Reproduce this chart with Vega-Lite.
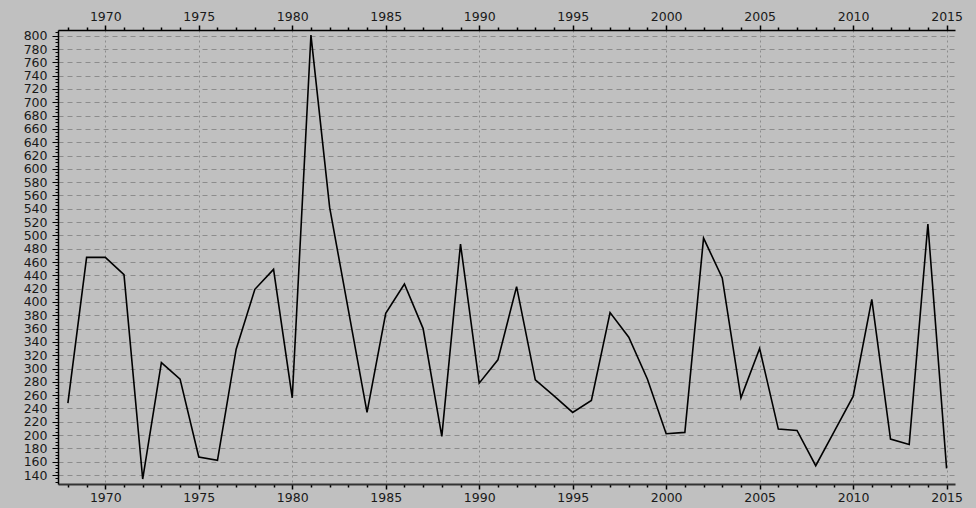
{
  "$schema": "https://vega.github.io/schema/vega-lite/v6.json",
  "width": 897,
  "height": 454,
  "autosize": {"type": "none"},
  "padding": {"left": 58, "top": 30, "right": 21, "bottom": 24},
  "background": "#c0c0c0",
  "config": {
    "view": {"stroke": null},
    "axis": {
      "labelFont": "DejaVu Sans",
      "labelFontSize": 12.5,
      "labelColor": "#1a1a1a",
      "domainColor": "#000000",
      "tickColor": "#000000",
      "gridColor": "#8c8c8c",
      "gridWidth": 1,
      "labelOverlap": false,
      "labelFlush": false,
      "title": null
    }
  },
  "data": {
    "values": [
      {"year": 1968, "value": 248},
      {"year": 1969, "value": 467},
      {"year": 1970, "value": 467},
      {"year": 1971, "value": 441},
      {"year": 1972, "value": 134},
      {"year": 1973, "value": 309},
      {"year": 1974, "value": 284},
      {"year": 1975, "value": 167},
      {"year": 1976, "value": 162},
      {"year": 1977, "value": 329},
      {"year": 1978, "value": 419},
      {"year": 1979, "value": 449},
      {"year": 1980, "value": 256},
      {"year": 1981, "value": 801},
      {"year": 1982, "value": 542},
      {"year": 1983, "value": 388},
      {"year": 1984, "value": 234},
      {"year": 1985, "value": 383},
      {"year": 1986, "value": 427},
      {"year": 1987, "value": 360},
      {"year": 1988, "value": 198},
      {"year": 1989, "value": 487},
      {"year": 1990, "value": 278},
      {"year": 1991, "value": 313},
      {"year": 1992, "value": 423},
      {"year": 1993, "value": 283},
      {"year": 1994, "value": 259},
      {"year": 1995, "value": 234},
      {"year": 1996, "value": 252},
      {"year": 1997, "value": 384},
      {"year": 1998, "value": 347},
      {"year": 1999, "value": 284},
      {"year": 2000, "value": 202},
      {"year": 2001, "value": 204},
      {"year": 2002, "value": 496},
      {"year": 2003, "value": 436},
      {"year": 2004, "value": 256},
      {"year": 2005, "value": 330},
      {"year": 2006, "value": 209},
      {"year": 2007, "value": 207},
      {"year": 2008, "value": 154},
      {"year": 2009, "value": 206},
      {"year": 2010, "value": 258},
      {"year": 2011, "value": 404},
      {"year": 2012, "value": 194},
      {"year": 2013, "value": 186},
      {"year": 2014, "value": 517},
      {"year": 2015, "value": 150}
    ]
  },
  "layer": [
    {
      "mark": {"type": "line", "color": "#000000", "strokeWidth": 1.6},
      "encoding": {
        "x": {
          "field": "year",
          "type": "quantitative",
          "scale": {"domain": [1967.47, 2015.45], "nice": false, "zero": false},
          "axis": {
            "orient": "bottom",
            "values": [1968,1969,1970,1971,1972,1973,1974,1975,1976,1977,1978,1979,1980,1981,1982,1983,1984,1985,1986,1987,1988,1989,1990,1991,1992,1993,1994,1995,1996,1997,1998,1999,2000,2001,2002,2003,2004,2005,2006,2007,2008,2009,2010,2011,2012,2013,2014,2015],
            "format": "d",
            "labelExpr": "datum.value % 5 === 0 ? datum.label : ''",
            "tickSize": {"condition": {"test": "datum.value % 5 === 0", "value": 5}, "value": 3},
            "tickWidth": 1.5,
            "labelPadding": 2,
            "domainColor": "#333333",
            "domainWidth": 2,
            "grid": true,
            "gridDash": [2, 3],
            "gridOpacity": {"condition": {"test": "datum.value % 5 === 0", "value": 1}, "value": 0}
          }
        },
        "y": {
          "field": "value",
          "type": "quantitative",
          "scale": {"domain": [126.5, 808.6], "nice": false, "zero": false},
          "axis": {
            "orient": "left",
            "values": [130,135,140,145,150,155,160,165,170,175,180,185,190,195,200,205,210,215,220,225,230,235,240,245,250,255,260,265,270,275,280,285,290,295,300,305,310,315,320,325,330,335,340,345,350,355,360,365,370,375,380,385,390,395,400,405,410,415,420,425,430,435,440,445,450,455,460,465,470,475,480,485,490,495,500,505,510,515,520,525,530,535,540,545,550,555,560,565,570,575,580,585,590,595,600,605,610,615,620,625,630,635,640,645,650,655,660,665,670,675,680,685,690,695,700,705,710,715,720,725,730,735,740,745,750,755,760,765,770,775,780,785,790,795,800,805],
            "format": "d",
            "labelExpr": "datum.value % 20 === 0 ? datum.label : ''",
            "tickSize": {"condition": {"test": "datum.value % 20 === 0", "value": 6}, "value": 3},
            "labelPadding": 5,
            "domainWidth": 1.5,
            "grid": true,
            "gridDash": [5, 4],
            "gridOpacity": {"condition": {"test": "datum.value % 20 === 0", "value": 1}, "value": 0}
          }
        }
      }
    },
    {
      "mark": {"type": "line", "opacity": 0},
      "encoding": {
        "x": {
          "field": "year",
          "type": "quantitative",
          "scale": {"domain": [1967.47, 2015.45], "nice": false, "zero": false},
          "axis": {
            "orient": "top",
            "values": [1968,1969,1970,1971,1972,1973,1974,1975,1976,1977,1978,1979,1980,1981,1982,1983,1984,1985,1986,1987,1988,1989,1990,1991,1992,1993,1994,1995,1996,1997,1998,1999,2000,2001,2002,2003,2004,2005,2006,2007,2008,2009,2010,2011,2012,2013,2014,2015],
            "format": "d",
            "labelExpr": "datum.value % 5 === 0 ? datum.label : ''",
            "tickSize": {"condition": {"test": "datum.value % 5 === 0", "value": 5}, "value": 3},
            "tickWidth": 1.5,
            "labelPadding": 2,
            "domainWidth": 1.5,
            "grid": false
          }
        },
        "y": {
          "field": "value",
          "type": "quantitative",
          "scale": {"domain": [126.5, 808.6], "nice": false, "zero": false},
          "axis": null
        }
      }
    }
  ],
  "resolve": {"axis": {"x": "independent", "y": "independent"}}
}
